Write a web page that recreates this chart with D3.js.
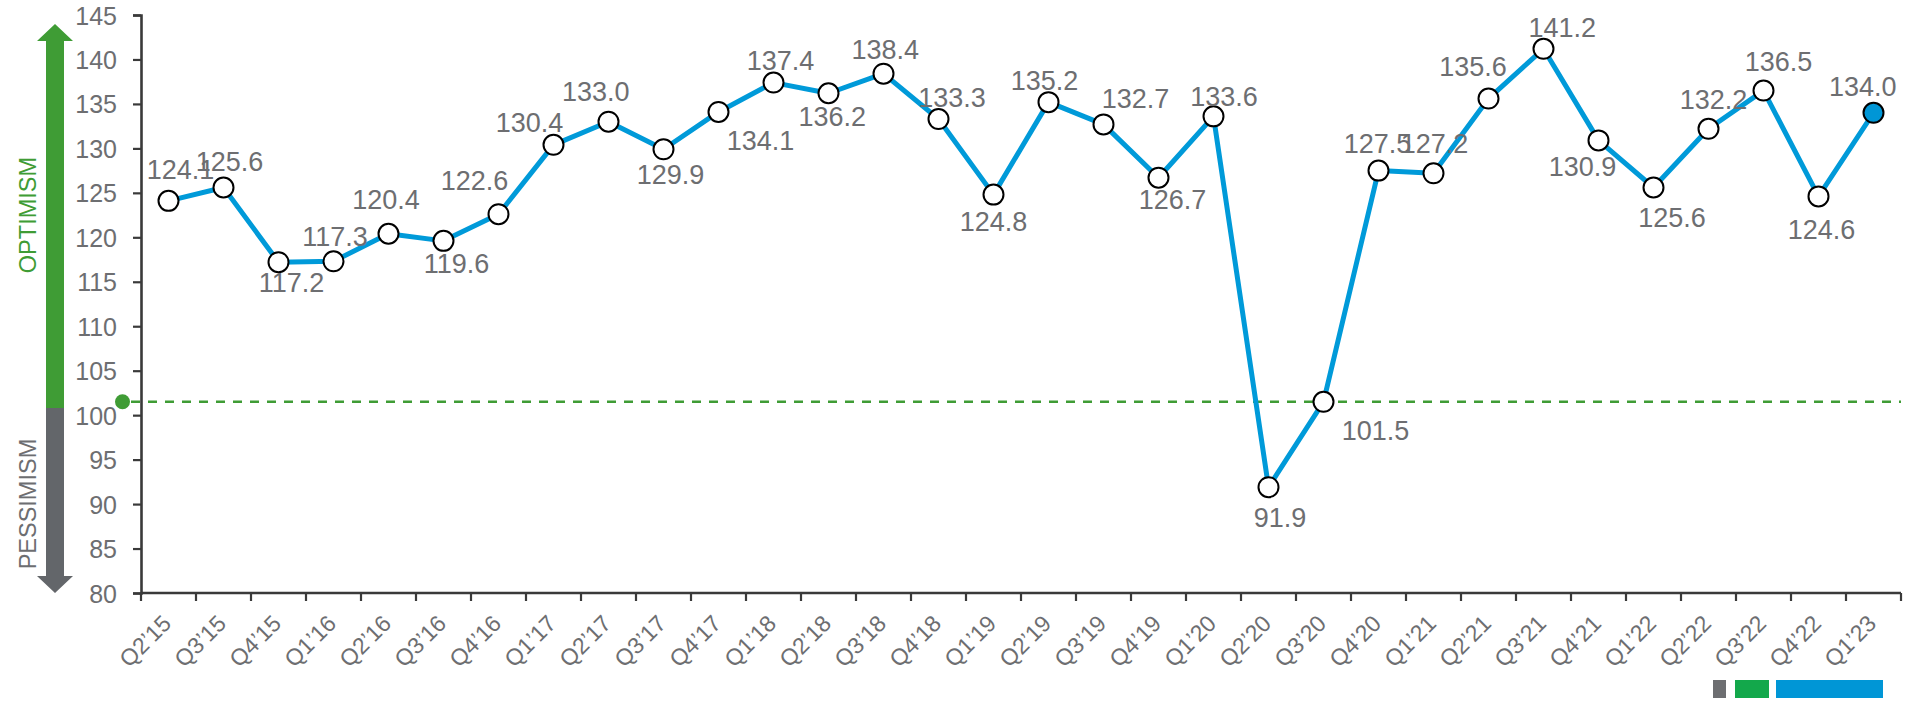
<!DOCTYPE html>
<html>
<head>
<meta charset="utf-8">
<script src="https://cdn.jsdelivr.net/npm/d3@7"></script>
<style>
  html, body { margin: 0; padding: 0; background: #ffffff; }
  svg { display: block; font-family: "Liberation Sans", Arial, sans-serif; }
</style>
</head>
<body>
<svg id="chart" width="1905" height="703"></svg>
<script>
// ---------- data ----------
const categories = ["Q2\u201915","Q3\u201915","Q4\u201915","Q1\u201916","Q2\u201916","Q3\u201916","Q4\u201916",
  "Q1\u201917","Q2\u201917","Q3\u201917","Q4\u201917","Q1\u201918","Q2\u201918","Q3\u201918","Q4\u201918",
  "Q1\u201919","Q2\u201919","Q3\u201919","Q4\u201919","Q1\u201920","Q2\u201920","Q3\u201920","Q4\u201920",
  "Q1\u201921","Q2\u201921","Q3\u201921","Q4\u201921","Q1\u201922","Q2\u201922","Q3\u201922","Q4\u201922","Q1\u201923"];
const values = [124.1,125.6,117.2,117.3,120.4,119.6,122.6,130.4,133.0,129.9,134.1,137.4,136.2,138.4,133.3,
  124.8,135.2,132.7,126.7,133.6,91.9,101.5,127.5,127.2,135.6,141.2,130.9,125.6,132.2,136.5,124.6,134.0];
const yTicks = [80,85,90,95,100,105,110,115,120,125,130,135,140,145];
const referenceValue = 101.5;
const splitValue = 100.8;
const sideLabels = ["OPTIMISM","PESSIMISM"];
const legendColors = ["#6d6e71","#13a84b","#0096d6"];

// label offsets (dx, baseline dy) relative to each point
const labelOffsets = [[12,-21.7],[6,-16.7],[13,29.5],[1.5,-15.7],[-2.5,-25],[13,32],[-24,-24],[-24,-13.3],
  [-12.7,-20.6],[7,35],[42,38.4],[7,-13],[3.7,32.7],[1.7,-15],[13.5,-12],[0,36.7],[-4,-11.7],[32,-16.7],
  [14,31.6],[10.5,-10],[11.5,40],[52,37.7],[-1,-17.4],[1,-20],[-15.5,-23],[18.8,-12],[-16,36],[18.6,39.4],
  [5,-20],[15,-19.3],[3,43],[-10.7,-16.7]];

// ---------- layout ----------
const svg = d3.select("#chart");
const mLeft = 141, mRight = 1901, mTop = 15, mBottom = 593;
const gray = "#6d6e71", green = "#3f9c35", blue = "#009ad9", axisCol = "#3a3a3a";

const x = d3.scaleBand().domain(categories).range([mLeft, mRight]).padding(0);
const y = d3.scaleLinear().domain([80,145]).range([mBottom, mTop]);
const cx = d => x(d) + x.bandwidth()/2;

// ---------- side arrows ----------
const ax = 55, shaftW = 18, headW = 36, headH = 17;
const ySplit = y(splitValue);
const yTopTip = y(144), yBotTip = y(80);
svg.append("path")
  .attr("d", `M${ax-shaftW/2},${ySplit} L${ax-shaftW/2},${yTopTip+headH} L${ax-headW/2},${yTopTip+headH} L${ax},${yTopTip} L${ax+headW/2},${yTopTip+headH} L${ax+shaftW/2},${yTopTip+headH} L${ax+shaftW/2},${ySplit} Z`)
  .attr("fill", green);
svg.append("path")
  .attr("d", `M${ax-shaftW/2},${ySplit} L${ax-shaftW/2},${yBotTip-headH} L${ax-headW/2},${yBotTip-headH} L${ax},${yBotTip} L${ax+headW/2},${yBotTip-headH} L${ax+shaftW/2},${yBotTip-headH} L${ax+shaftW/2},${ySplit} Z`)
  .attr("fill", "#63666a");

svg.append("text")
  .attr("transform", `translate(36,${y(122.5)}) rotate(-90)`)
  .attr("text-anchor","middle").attr("font-size",23.5).attr("fill",green)
  .text(sideLabels[0]);
svg.append("text")
  .attr("transform", `translate(36,${y(90.0)}) rotate(-90)`)
  .attr("text-anchor","middle").attr("font-size",23.5).attr("fill",gray)
  .text(sideLabels[1]);

// ---------- axes ----------
const yAxis = d3.axisLeft(y).tickValues(yTicks).tickSize(8).tickPadding(16).tickFormat(d3.format("d"));
const gy = svg.append("g").attr("transform", `translate(${mLeft},0)`).call(yAxis);
gy.select(".domain").attr("stroke", axisCol).attr("stroke-width", 2.6);
gy.selectAll(".tick line").attr("stroke", axisCol).attr("stroke-width", 2.2);
gy.selectAll(".tick text").attr("fill", gray).attr("font-size", 25)
  .attr("font-family", '"Liberation Sans", Arial, sans-serif').attr("dy","0.36em");

// x axis line with ticks at band boundaries
const gx = svg.append("g");
gx.append("line").attr("x1", mLeft).attr("x2", mRight).attr("y1", mBottom).attr("y2", mBottom)
  .attr("stroke", axisCol).attr("stroke-width", 2.6);
const boundaries = categories.map(c => x(c)).concat([mRight]);
gx.selectAll("line.bt").data(boundaries).join("line").attr("class","bt")
  .attr("x1", d => d).attr("x2", d => d).attr("y1", mBottom).attr("y2", mBottom + 8)
  .attr("stroke", axisCol).attr("stroke-width", 2.2);
gx.selectAll("text.xl").data(categories).join("text").attr("class","xl")
  .attr("transform", d => `translate(${cx(d)+4},${mBottom+32}) rotate(-45)`)
  .attr("text-anchor","end").attr("font-size",23).attr("fill",gray)
  .text(d => d);

// ---------- reference line ----------
svg.append("line")
  .attr("x1", mLeft - 10).attr("x2", mRight).attr("y1", y(referenceValue)).attr("y2", y(referenceValue))
  .attr("stroke", green).attr("stroke-width", 2.5).attr("stroke-dasharray", "9,8");
svg.append("circle").attr("cx", mLeft - 18.5).attr("cy", y(referenceValue)).attr("r", 7.5).attr("fill", green);

// ---------- series ----------
const pts = categories.map((c,i) => ({c, v: values[i], i}));
svg.append("path").datum(pts)
  .attr("d", d3.line().x(d => cx(d.c)).y(d => y(d.v)))
  .attr("fill","none").attr("stroke", blue).attr("stroke-width", 5).attr("stroke-linejoin","round");
svg.selectAll("circle.pt").data(pts).join("circle").attr("class","pt")
  .attr("cx", d => cx(d.c)).attr("cy", d => y(d.v)).attr("r", 10)
  .attr("fill", d => d.i === pts.length - 1 ? "#0096d6" : "#ffffff")
  .attr("stroke", "#000").attr("stroke-width", 2);

svg.selectAll("text.lbl").data(pts).join("text").attr("class","lbl")
  .attr("x", d => cx(d.c) + labelOffsets[d.i][0])
  .attr("y", d => y(d.v) + labelOffsets[d.i][1])
  .attr("text-anchor","middle").attr("font-size",27).attr("fill",gray)
  .text(d => d3.format(".1f")(d.v));

// ---------- legend swatches ----------
const legW = [13, 34, 107];
let lx = 1713;
legendColors.forEach((col, i) => {
  svg.append("rect").attr("x", lx).attr("y", 680).attr("width", legW[i]).attr("height", 18).attr("fill", col);
  lx += legW[i] + (i === 0 ? 9 : 7);
});
</script>
</body>
</html>
